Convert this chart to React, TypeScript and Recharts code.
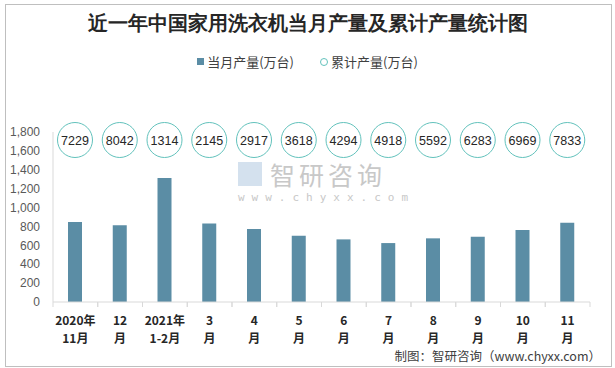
import { Bar, BarChart, LabelList, Legend, XAxis, YAxis } from 'recharts'

const categories = ['2020年11月', '12月', '2021年1-2月', '3月', '4月', '5月', '6月', '7月', '8月', '9月', '10月', '11月']
const tickTop = ['2020年', '12', '2021年', '3', '4', '5', '6', '7', '8', '9', '10', '11']
const tickBottom = ['11月', '月', '1-2月', '月', '月', '月', '月', '月', '月', '月', '月', '月']
const monthly = [848, 813, 1314, 831, 772, 701, 663, 624, 674, 691, 762, 838]
const cumulative = [7229, 8042, 1314, 2145, 2917, 3618, 4294, 4918, 5592, 6283, 6969, 7833]
const yTicks = [0, 200, 400, 600, 800, 1000, 1200, 1400, 1600, 1800]

const data = categories.map((name, i) => ({ name, monthly: monthly[i], cumulative: cumulative[i] }))

const W = 615
const H = 368
const LEFT = 53
const RIGHT = 25
const TOP = 113
const BOTTOM = 66
const BAND = (W - LEFT - RIGHT) / categories.length
const AXIS_Y = H - BOTTOM

const BAR = '#5B8DA5'
const RING = '#62C2BC'
const CJK = '"Noto Sans CJK SC", "Liberation Sans", sans-serif'

function CategoryTick(props: any) {
  const { x, index } = props
  return (
    <g>
      <line x1={x - BAND / 2} x2={x - BAND / 2} y1={AXIS_Y} y2={AXIS_Y + 5} stroke="#d9d9d9" />
      <line x1={x + BAND / 2} x2={x + BAND / 2} y1={AXIS_Y} y2={AXIS_Y + 5} stroke="#d9d9d9" />
      <text x={x} y={AXIS_Y + 23} textAnchor="middle" fontSize={12} fontWeight="bold" fill="#262626" fontFamily={CJK}>
        {tickTop[index]}
      </text>
      <text x={x} y={AXIS_Y + 41} textAnchor="middle" fontSize={12} fontWeight="bold" fill="#262626" fontFamily={CJK}>
        {tickBottom[index]}
      </text>
    </g>
  )
}

function RingLabel(props: any) {
  const { x, width, value } = props
  const cx = x + width / 2
  const cy = TOP + 27
  return (
    <g>
      <circle cx={cx} cy={cy} r={17.5} fill="#fff" stroke={RING} strokeWidth={1} />
      <text x={cx} y={cy + 4.5} textAnchor="middle" fontSize={12.5} fill="#262626" fontFamily='"Liberation Sans", sans-serif'>
        {value}
      </text>
    </g>
  )
}

function LegendBox() {
  return (
    <div style={{ display: 'flex', justifyContent: 'center', gap: 26, fontSize: 13, color: '#404040', fontFamily: CJK }}>
      <span style={{ display: 'flex', alignItems: 'center', gap: 3 }}>
        <span style={{ width: 7, height: 7, background: BAR, display: 'inline-block' }} />
        当月产量(万台)
      </span>
      <span style={{ display: 'flex', alignItems: 'center', gap: 3 }}>
        <span style={{ width: 6, height: 6, border: `1.5px solid ${RING}`, borderRadius: '50%', display: 'inline-block' }} />
        累计产量(万台)
      </span>
    </div>
  )
}

export default function App() {
  return (
    <div style={{ position: 'absolute', left: 0, top: 0, width: W, height: H, background: '#fff' }}>
      <div style={{ position: 'absolute', left: 5, top: 4, width: 605, height: 361, border: '1px solid #bfbfbf' }} />
      <div
        style={{
          position: 'absolute',
          top: 10,
          left: 0,
          width: W,
          textAlign: 'center',
          fontSize: 20,
          fontWeight: 'bold',
          color: '#262626',
          fontFamily: 'serif',
        }}
      >
        近一年中国家用洗衣机当月产量及累计产量统计图
      </div>
      <div style={{ position: 'absolute', left: 238, top: 160, color: '#c8c8c8', fontFamily: CJK }}>
        <div style={{ display: 'flex', alignItems: 'center', gap: 8, height: 28 }}>
          <span style={{ width: 24, height: 24, background: '#c9d9ea', display: 'inline-block', opacity: 0.8 }} />
          <span style={{ fontSize: 25, letterSpacing: 4, lineHeight: '28px' }}>智研咨询</span>
        </div>
        <div style={{ fontSize: 11, lineHeight: '12px', letterSpacing: 7, fontFamily: '"DejaVu Sans Mono", monospace', marginTop: 4 }}>
          www.chyxx.com
        </div>
      </div>
      <BarChart width={W} height={H} data={data} margin={{ top: TOP, right: RIGHT, bottom: 0, left: 0 }} style={{ position: 'absolute', left: 0, top: 0 }}>
        <Legend verticalAlign="top" content={<LegendBox />} wrapperStyle={{ top: 52, left: 0, width: W }} />
        <XAxis dataKey="name" axisLine={{ stroke: '#d9d9d9' }} tickLine={false} tick={<CategoryTick />} interval={0} height={BOTTOM} />
        <YAxis
          domain={[0, 1800]}
          ticks={yTicks}
          interval={0}
          width={LEFT}
          axisLine={{ stroke: '#d9d9d9' }}
          tickLine={false}
          tickMargin={7}
          tick={{ fontSize: 12, fill: '#595959', fontFamily: '"Liberation Sans", sans-serif' }}
          tickFormatter={(v: number) => v.toLocaleString('en-US')}
        />
        <Bar dataKey="monthly" fill={BAR} barSize={14} isAnimationActive={false}>
          <LabelList dataKey="cumulative" content={<RingLabel />} />
        </Bar>
      </BarChart>
      <div style={{ position: 'absolute', right: 14, top: 346, fontSize: 12.5, color: '#404040', fontFamily: CJK }}>
        制图：智研咨询（www.chyxx.com）
      </div>
    </div>
  )
}
